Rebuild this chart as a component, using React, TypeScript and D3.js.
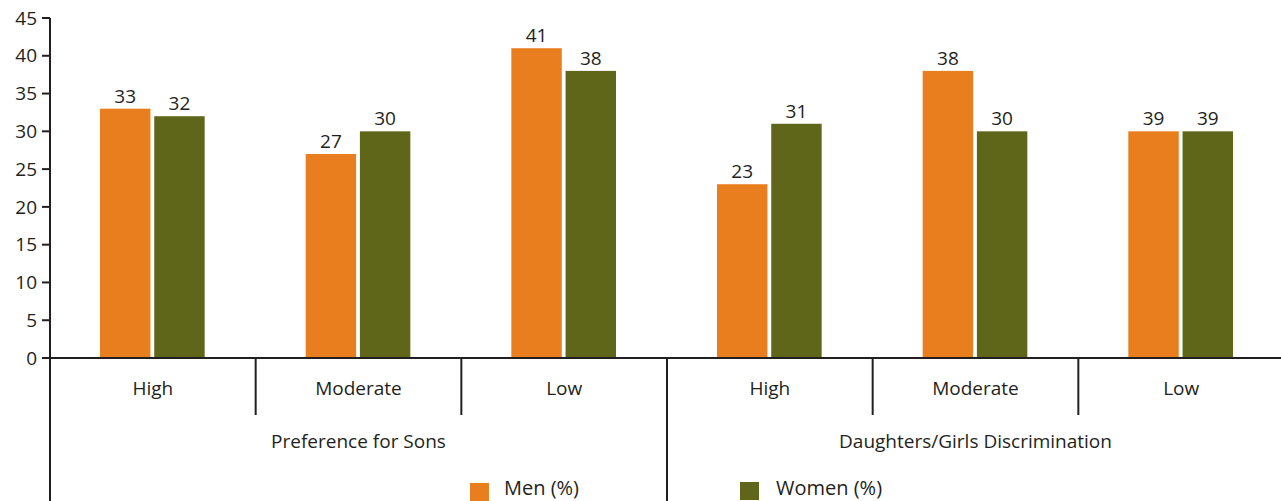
import React from "react";
import * as d3 from "d3";

const groups = ["Preference for Sons", "Daughters/Girls Discrimination"];
const levels = ["High", "Moderate", "Low"];
const series = ["Men (%)", "Women (%)"];
const menValues = [33, 27, 41, 23, 38, 30];
const womenValues = [32, 30, 38, 31, 30, 30];
const menLabels = ["33", "27", "41", "23", "38", "39"];
const womenLabels = ["32", "30", "38", "31", "30", "39"];
const yTicks = [0, 5, 10, 15, 20, 25, 30, 35, 40, 45];
const colors = ["#E97E1F", "#5F6619"];

const W = 1281;
const H = 501;
const FONT = "'Open Sans', Lato, sans-serif";
const TXT = "#231F20";

export default function App() {
  const cats = groups.flatMap((g, gi) => levels.map((l, li) => `${gi}-${li}`));
  const x0 = d3.scaleBand<string>().domain(cats).range([50, 1284]).padding(0);
  const step = x0.bandwidth();
  const x1 = d3.scaleBand<string>().domain(series).range([50, step - 51]).paddingInner(0.07);
  const y = d3.scaleLinear().domain([0, 45]).range([358, 18]);
  const vals = [menValues, womenValues];
  const labs = [menLabels, womenLabels];
  const baseY = y(0);

  return (
    <svg width={W} height={H} style={{ position: "absolute", left: 0, top: 0, background: "#fff" }}>
      {cats.map((c, ci) =>
        series.map((s, si) => {
          const v = vals[si][ci];
          const bx = (x0(c) as number) + (x1(s) as number);
          return (
            <g key={c + s}>
              <rect x={bx} y={y(v)} width={x1.bandwidth()} height={baseY - y(v)} fill={colors[si]} />
              <text x={bx + x1.bandwidth() / 2} y={y(v) - 6} textAnchor="middle" fontFamily={FONT} fontSize={19} fill={TXT}>
                {labs[si][ci]}
              </text>
            </g>
          );
        })
      )}
      <line x1={50} x2={50} y1={y(45)} y2={H} stroke={TXT} strokeWidth={2} />
      {yTicks.map((t) => (
        <g key={t}>
          <line x1={42} x2={50} y1={y(t)} y2={y(t)} stroke={TXT} strokeWidth={2} />
          <text x={37} y={y(t)} dy="0.35em" textAnchor="end" fontFamily={FONT} fontSize={19} fill={TXT}>
            {t}
          </text>
        </g>
      ))}
      <line x1={42} x2={1290} y1={baseY} y2={baseY} stroke={TXT} strokeWidth={2} />
      {cats.map((c, ci) => {
        const left = x0(c) as number;
        const li = ci % 3;
        const isGroupStart = li === 0;
        return (
          <g key={"sep" + c}>
            {!isGroupStart && (
              <line x1={left} x2={left} y1={baseY} y2={415} stroke={TXT} strokeWidth={2} />
            )}
            {isGroupStart && ci > 0 && (
              <line x1={left} x2={left} y1={baseY} y2={H} stroke={TXT} strokeWidth={2} />
            )}
            <text x={left + step / 2} y={388} dy="0.35em" textAnchor="middle" fontFamily={FONT} fontSize={19} fill={TXT}>
              {levels[li]}
            </text>
          </g>
        );
      })}
      {groups.map((g, gi) => {
        const left = x0(`${gi}-0`) as number;
        return (
          <text key={g} x={left + (step * 3) / 2} y={441} dy="0.35em" textAnchor="middle" fontFamily={FONT} fontSize={19} fill={TXT}>
            {g}
          </text>
        );
      })}
      <rect x={470} y={483} width={19} height={19} fill={colors[0]} />
      <text x={504} y={487.5} dy="0.35em" fontFamily={FONT} fontSize={20} fill={TXT}>
        {series[0]}
      </text>
      <rect x={740} y={482} width={19} height={18} fill={colors[1]} />
      <text x={776} y={488} dy="0.35em" fontFamily={FONT} fontSize={20} fill={TXT}>
        {series[1]}
      </text>
    </svg>
  );
}
